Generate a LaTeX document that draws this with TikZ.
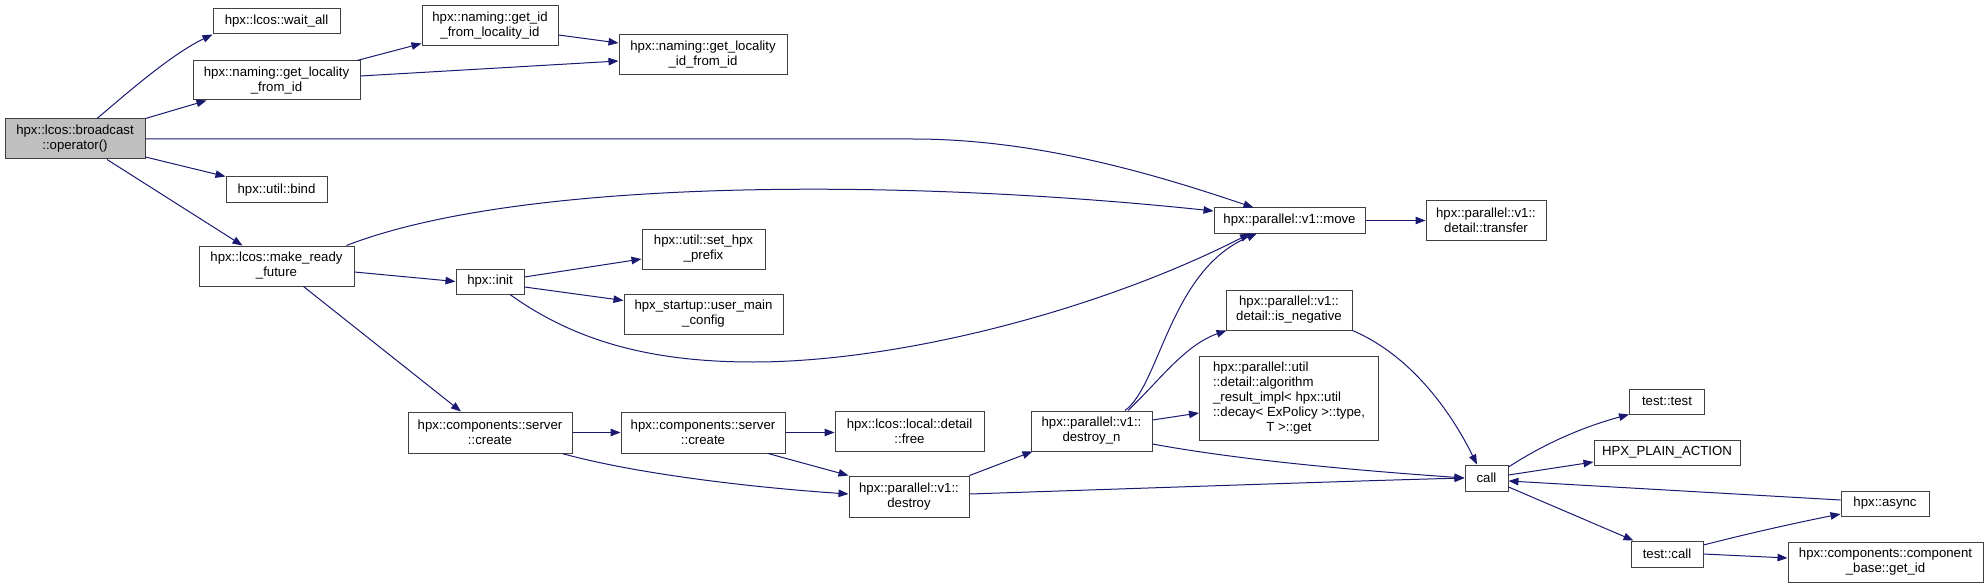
\documentclass[tikz,border=0pt]{standalone}
\usepackage{fontspec}
\setmainfont{Liberation Sans}
\usetikzlibrary{arrows.meta}
\definecolor{edgeblue}{HTML}{191970}
\definecolor{boxline}{HTML}{404040}
\definecolor{boxfill}{HTML}{BFBFBF}
\begin{document}
\begin{tikzpicture}[x=1pt,y=-1pt,
  box/.style={draw=boxline, line width=1pt, fill=white, inner sep=0pt, align=center,
              font=\fontsize{13.2}{15}\selectfont, text=black},
  edge/.style={draw=edgeblue, line width=1pt, -{Triangle[length=10pt,width=7.5pt]}}]
\useasboundingbox (0,0) rectangle (1988,588);

% nodes
\node[box, fill=boxfill, minimum width=140pt, minimum height=40pt] (bc) at (75,139) {hpx::lcos::broadcast\\::operator()};
\node[box, minimum width=127pt, minimum height=25pt] (wa) at (276.5,21.5) {hpx::lcos::wait\_all};
\node[box, minimum width=167pt, minimum height=39pt] (glfi) at (276.5,80.5) {hpx::naming::get\_locality\\\_from\_id};
\node[box, minimum width=136pt, minimum height=40pt] (gifl) at (490,26) {hpx::naming::get\_id\\\_from\_locality\_id};
\node[box, minimum width=168pt, minimum height=40pt] (glifi) at (703,55) {hpx::naming::get\_locality\\\_id\_from\_id};
\node[box, minimum width=101pt, minimum height=26pt] (bind) at (276.5,190) {hpx::util::bind};
\node[box, minimum width=155pt, minimum height=40pt] (mrf) at (276.5,266) {hpx::lcos::make\_ready\\\_future};
\node[box, minimum width=68pt, minimum height=25pt] (init) at (490,281.5) {hpx::init};
\node[box, minimum width=123pt, minimum height=40pt] (sph) at (703.5,249) {hpx::util::set\_hpx\\\_prefix};
\node[box, minimum width=159pt, minimum height=40pt] (umc) at (703.5,314) {hpx\_startup::user\_main\\\_config};
\node[box, minimum width=164pt, minimum height=41pt] (sc1) at (490,432.5) {hpx::components::server\\::create};
\node[box, minimum width=164pt, minimum height=41pt] (sc2) at (703,432.5) {hpx::components::server\\::create};
\node[box, minimum width=149pt, minimum height=40pt] (lfree) at (909.5,431) {hpx::lcos::local::detail\\::free};
\node[box, minimum width=120pt, minimum height=41pt] (destroy) at (909,496.5) {hpx::parallel::v1::\\destroy};
\node[box, minimum width=121pt, minimum height=40pt] (destroyn) at (1091.5,431) {hpx::parallel::v1::\\destroy\_n};
\node[box, minimum width=151pt, minimum height=25pt] (move) at (1289.5,220.5) {hpx::parallel::v1::move};
\node[box, minimum width=126pt, minimum height=40pt] (isneg) at (1289,310) {hpx::parallel::v1::\\detail::is\_negative};
\node[box, minimum width=179pt, minimum height=84pt] (algo) at (1289,398) {\begin{tabular}{@{}l@{}}hpx::parallel::util\\::detail::algorithm\\\_result\_impl< hpx::util\\::decay< ExPolicy >::type,\\\multicolumn{1}{@{}c@{}}{T >::get}\end{tabular}};
\node[box, minimum width=120pt, minimum height=39pt] (transfer) at (1486,220.5) {hpx::parallel::v1::\\detail::transfer};
\node[box, minimum width=43pt, minimum height=26pt] (call) at (1486.5,478) {call};
\node[box, minimum width=75pt, minimum height=25pt] (ttest) at (1667,401.5) {test::test};
\node[box, minimum width=146pt, minimum height=25pt] (hpa) at (1667,452.5) {HPX\_PLAIN\_ACTION};
\node[box, minimum width=88pt, minimum height=25pt] (async) at (1885,503.5) {hpx::async};
\node[box, minimum width=72pt, minimum height=26pt] (tcall) at (1667,554) {test::call};
\node[box, minimum width=195pt, minimum height=40pt] (cb) at (1885.5,562) {hpx::components::component\\\_base::get\_id};

% edges
\draw[edge] ([xshift=22pt]bc.north) .. controls (125,95) and (170,55) .. (wa.south west);
\draw[edge] (bc.north east) -- ([xshift=14pt]glfi.south west);
\draw[edge] (bc.east) -- (913,139) .. controls (1040,139) and (1160,176) .. ([xshift=-36pt]move.north);
\draw[edge] ([yshift=-18pt]bc.east) -- (bind.north west);
\draw[edge] ([xshift=32pt]bc.south) -- ([xshift=-34pt]mrf.north);

\draw[edge] ([xshift=-3.5pt]glfi.north east) -- ([yshift=3pt]gifl.south west);
\draw[edge] ([yshift=4.5pt]glfi.east) -- ([yshift=-6pt]glifi.west);
\draw[edge] ([yshift=-9pt]gifl.east) -- ([yshift=12pt]glifi.west);

\draw[edge] ([xshift=70pt]mrf.north) .. controls (520,178) and (900,178) .. ([yshift=9.5pt]move.west);
\draw[edge] ([yshift=-6pt]mrf.east) -- (init.west);
\draw[edge] ([xshift=27pt]mrf.south) -- ([xshift=-29pt]sc1.north);

\draw[edge] ([yshift=4.5pt]init.east) -- ([yshift=-10pt]sph.west);
\draw[edge] ([yshift=-5.5pt]init.east) -- ([yshift=-7pt]umc.north west);
\draw[edge] ([xshift=20pt]init.south) .. controls (580,345) and (660,362) .. (753,362)
            .. controls (900,362) and (1100,310) .. ([xshift=-39.5pt]move.south);

\draw[edge] (sc1.east) -- (sc2.west);
\draw[edge] ([xshift=72pt]sc1.south) .. controls (640,475) and (760,488) .. ([yshift=2.5pt]destroy.west);
\draw[edge] (sc2.east) -- (sc2.east -| lfree.west);
\draw[edge] ([xshift=65pt]sc2.south) -- (destroy.north west);

\draw[edge] (destroy.north east) -- ([xshift=2pt]destroyn.south west);
\draw[edge] ([yshift=2.5pt]destroy.east) .. controls (1150,488) and (1350,481) .. (call.west);

\draw[edge] ([yshift=-13pt]destroyn.east) .. controls (1250,462) and (1380,472) .. (call.west);
\draw[edge] ([xshift=33.5pt]destroyn.north) .. controls (1160,385) and (1170,270) .. ([xshift=-32.5pt]move.south);
\draw[edge] ([xshift=36.5pt]destroyn.north) .. controls (1160,380) and (1185,345) .. ([xshift=1pt]isneg.south west);
\draw[edge] ([yshift=11pt]destroyn.east) -- ([yshift=-15pt]algo.west);

\draw[edge] (isneg.south east) .. controls (1410,355) and (1450,410) .. ([xshift=-9.5pt]call.north);
\draw[edge] (move.east) -- (transfer.west);

\draw[edge] ([yshift=11pt]call.east) .. controls (1550,440) and (1590,425) .. (ttest.south west);
\draw[edge] ([yshift=3pt]call.east) -- ([yshift=-9.5pt]hpa.west);
\draw[edge] ([yshift=3.5pt]async.west) -- ([yshift=-3pt]call.east);
\draw[edge] ([yshift=-9pt]call.east) -- ([xshift=3pt]tcall.north west);
\draw[edge] ([yshift=9pt]tcall.east) .. controls (1750,533) and (1800,522) .. ([yshift=-10.5pt]async.west);
\draw[edge] (tcall.east) -- ([yshift=4pt]cb.west);
\end{tikzpicture}
\end{document}
